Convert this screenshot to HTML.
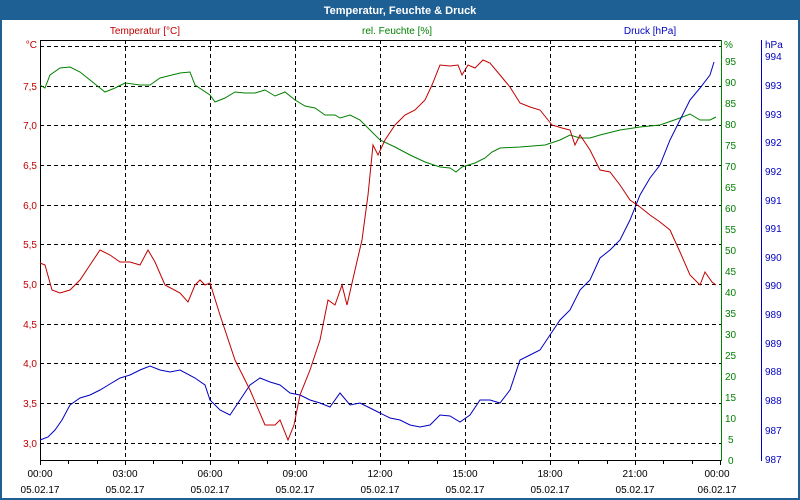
<!DOCTYPE html><html><head><meta charset="utf-8"><style>
html,body{margin:0;padding:0;background:#fff}
svg{display:block;font-family:"Liberation Sans",Tahoma,sans-serif;font-size:10px}
</style></head><body>
<svg width="800" height="500" viewBox="0 0 800 500">
<rect x="0" y="0" width="800" height="500" fill="#1e5f94"/>
<rect x="2" y="20" width="796" height="478" fill="#fff"/>
<text x="400" y="14" text-anchor="middle" fill="#fff" font-weight="bold" font-size="11">Temperatur, Feuchte &amp; Druck</text>
<text x="145" y="34" text-anchor="middle" fill="#c00000">Temperatur [°C]</text>
<text x="397" y="34" text-anchor="middle" fill="#008000">rel. Feuchte [%]</text>
<text x="650" y="34" text-anchor="middle" fill="#0000c0">Druck [hPa]</text>
<g stroke="#000" stroke-dasharray="4,3" stroke-width="1">
<line x1="40" x2="721" y1="46.5" y2="46.5"/><line x1="40" x2="721" y1="86.5" y2="86.5"/><line x1="40" x2="721" y1="125.5" y2="125.5"/><line x1="40" x2="721" y1="165.5" y2="165.5"/><line x1="40" x2="721" y1="205.5" y2="205.5"/><line x1="40" x2="721" y1="244.5" y2="244.5"/><line x1="40" x2="721" y1="284.5" y2="284.5"/><line x1="40" x2="721" y1="324.5" y2="324.5"/><line x1="40" x2="721" y1="363.5" y2="363.5"/><line x1="40" x2="721" y1="403.5" y2="403.5"/><line x1="40" x2="721" y1="443.5" y2="443.5"/>
<line y1="40" y2="460" x1="125.5" x2="125.5"/><line y1="40" y2="460" x1="210.5" x2="210.5"/><line y1="40" y2="460" x1="295.5" x2="295.5"/><line y1="40" y2="460" x1="380.5" x2="380.5"/><line y1="40" y2="460" x1="465.5" x2="465.5"/><line y1="40" y2="460" x1="550.5" x2="550.5"/><line y1="40" y2="460" x1="635.5" x2="635.5"/>
</g>
<line x1="40" x2="721" y1="40.5" y2="40.5" stroke="#000"/>
<line x1="40.5" x2="40.5" y1="40" y2="461" stroke="#000"/>
<line x1="40" x2="721" y1="460.5" y2="460.5" stroke="#000"/>
<line x1="721.5" x2="721.5" y1="40" y2="461" stroke="#008000"/>
<line x1="761.5" x2="761.5" y1="40" y2="461" stroke="#0000c0"/>
<g stroke="#000">
<path d="M40.5 461v4M68.5 461v3M97.5 461v3M125.5 461v4M153.5 461v3M182.5 461v3M210.5 461v4M238.5 461v3M267.5 461v3M295.5 461v4M323.5 461v3M352.5 461v3M380.5 461v4M408.5 461v3M437.5 461v3M465.5 461v4M493.5 461v3M522.5 461v3M550.5 461v4M578.5 461v3M607.5 461v3M635.5 461v4M663.5 461v3M692.5 461v3M720.5 461v4"/>
</g>
<g fill="#c00000" text-anchor="end">
<text x="37" y="48">°C</text><text x="37" y="90">7,5</text><text x="37" y="129">7,0</text><text x="37" y="169">6,5</text><text x="37" y="209">6,0</text><text x="37" y="248">5,5</text><text x="37" y="288">5,0</text><text x="37" y="328">4,5</text><text x="37" y="367">4,0</text><text x="37" y="407">3,5</text><text x="37" y="447">3,0</text>
</g>
<g fill="#008000">
<text x="724" y="48">%</text>
<text x="725" y="65">95</text><text x="725" y="86">90</text><text x="725" y="107">85</text><text x="725" y="128">80</text><text x="725" y="149">75</text><text x="725" y="170">70</text><text x="725" y="191">65</text><text x="725" y="212">60</text><text x="725" y="233">55</text><text x="725" y="254">50</text><text x="725" y="275">45</text><text x="725" y="296">40</text><text x="725" y="317">35</text><text x="725" y="338">30</text><text x="725" y="359">25</text><text x="725" y="380">20</text><text x="725" y="401">15</text><text x="725" y="422">10</text><text x="728" y="443">5</text><text x="728" y="464">0</text>
</g>
<g fill="#0000c0">
<text x="765" y="48">hPa</text>
<text x="765" y="60">994</text><text x="765" y="89">993</text><text x="765" y="118">993</text><text x="765" y="146">992</text><text x="765" y="175">992</text><text x="765" y="204">991</text><text x="765" y="232">991</text><text x="765" y="261">990</text><text x="765" y="289">990</text><text x="765" y="318">989</text><text x="765" y="347">989</text><text x="765" y="375">988</text><text x="765" y="404">988</text><text x="765" y="434">987</text><text x="765" y="463">987</text>
</g>
<g fill="#000" text-anchor="middle">
<text x="40" y="477">00:00</text><text x="125" y="477">03:00</text><text x="210" y="477">06:00</text><text x="295" y="477">09:00</text><text x="380" y="477">12:00</text><text x="465" y="477">15:00</text><text x="550" y="477">18:00</text><text x="635" y="477">21:00</text><text x="717" y="477">00:00</text>
<text x="40" y="493">05.02.17</text><text x="125" y="493">05.02.17</text><text x="210" y="493">05.02.17</text><text x="295" y="493">05.02.17</text><text x="380" y="493">05.02.17</text><text x="465" y="493">05.02.17</text><text x="550" y="493">05.02.17</text><text x="635" y="493">05.02.17</text><text x="717" y="493">06.02.17</text>
</g>
<polyline fill="none" stroke="#008000" points="40,85 45,88 50,75 60,68 70,67 80,72 90,80 100,88 105,92 115,88 125,83 140,85 150,85 160,78 180,73 190,72 195,85 210,95 215,102 225,98 235,92 245,93 255,93 265,90 275,96 285,92 295,100 305,106 315,108 325,115 335,115 340,118 350,115 360,120 370,130 380,140 395,147 410,155 425,162 440,167 450,168 456,172 462,167 475,163 485,158 492,152 500,148 520,147 545,145 560,140 570,135 580,138 590,138 600,135 620,130 640,127 660,125 680,118 690,114 700,120 710,120 716,117"/>
<polyline fill="none" stroke="#0000c0" points="40,440 48,437 55,430 62,420 70,405 80,398 90,395 100,390 110,384 120,378 130,375 140,370 150,366 160,370 170,372 180,370 195,378 205,385 210,400 220,410 230,415 240,400 250,385 260,378 270,382 280,385 290,393 300,395 310,400 320,403 330,407 340,393 350,405 360,403 370,408 380,413 390,418 400,420 410,425 420,427 430,425 440,415 450,416 460,422 470,415 480,400 490,400 500,403 510,390 520,360 530,355 540,350 550,335 560,320 570,310 580,290 590,280 600,258 610,250 620,240 630,220 640,195 650,178 660,165 670,140 680,120 690,100 700,88 710,75 714,62"/>
<polyline fill="none" stroke="#c00000" points="40,263 45,265 52,290 60,293 70,290 80,280 90,265 100,250 110,255 120,262 130,262 140,265 148,250 155,262 165,285 180,293 188,302 195,285 200,280 205,285 210,283 220,315 235,360 250,390 265,425 275,425 280,420 288,440 294,425 300,395 310,370 320,340 328,300 335,305 342,285 347,305 355,270 362,240 368,195 373,145 378,155 385,140 395,125 405,115 415,110 425,100 432,85 440,65 450,66 458,65 462,75 468,65 475,68 483,60 490,63 500,75 510,87 520,103 530,107 540,110 552,125 562,128 570,130 575,145 580,135 590,150 600,170 610,172 620,185 630,200 640,207 650,215 660,222 670,230 680,252 690,275 700,285 705,272 712,282 716,285"/>
</svg>
</body></html>
